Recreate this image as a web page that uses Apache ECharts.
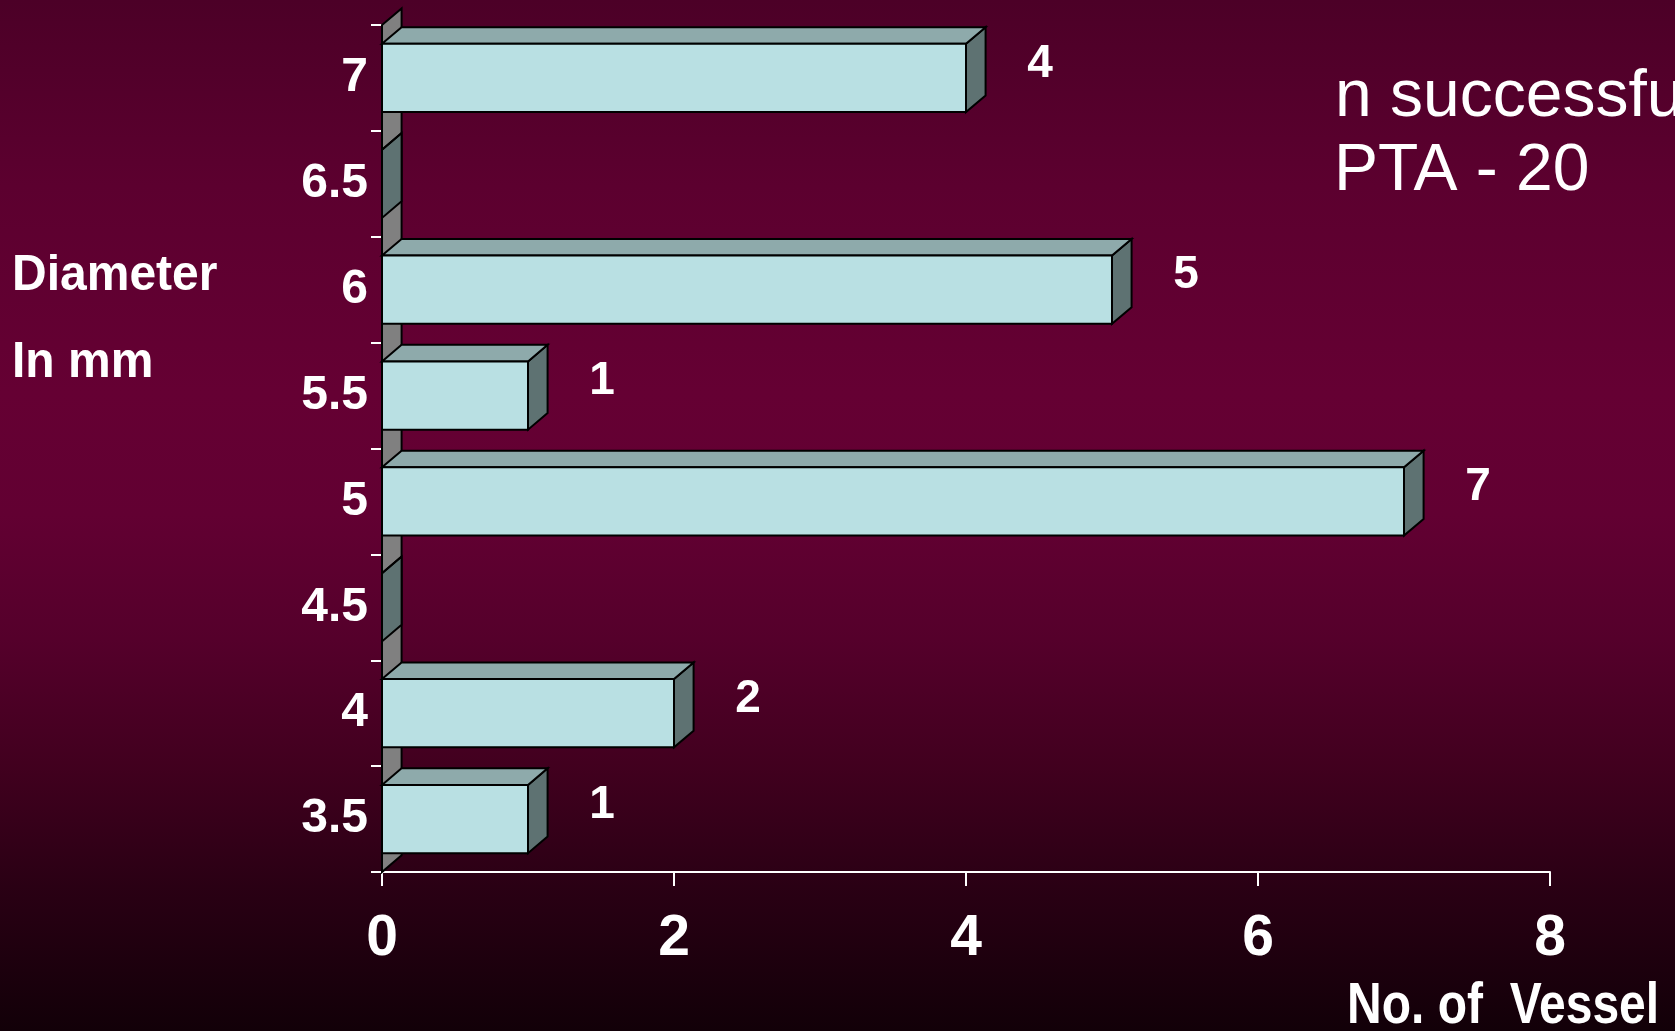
<!DOCTYPE html>
<html>
<head>
<meta charset="utf-8">
<script src="https://cdn.jsdelivr.net/npm/echarts@6/dist/echarts.min.js"></script>
<style>
  html, body { margin: 0; padding: 0; }
  #chart {
    width: 1675px; height: 1031px;
    background: linear-gradient(to bottom,
      #4c0027 0%, #5c002f 18%, #650033 38%, #620032 50%,
      #55002b 62%, #42001f 74%, #2a0014 86%, #120008 100%);
  }
</style>
</head>
<body>
<div id="chart"></div>
<script>
// Vessel diameter (mm), bottom to top
const diameters = ['3.5', '4', '4.5', '5', '5.5', '6', '6.5', '7'];
// Number of vessels for each diameter
const vesselCounts = [1, 2, 0, 7, 1, 5, 0, 4];
// Value-axis ticks
const countTicks = [0, 2, 4, 6, 8];

const FONT = "'Liberation Sans', Arial, sans-serif";
const FRONT = '#b9e0e3', TOP = '#8eaaab', SIDE = '#5e7272', WALL = '#808080', EDGE = '#000000';

const chart = echarts.init(document.getElementById('chart'), null, { renderer: 'canvas' });

// depth of the pseudo-3D extrusion, proportional to the category band
function depth(api) {
  const band = api.size([0, 1])[1];
  return { band: band, dx: band * 0.185, dy: band * 0.157 };
}

// back wall behind the bars, spanning the whole category axis
function renderWall(params, api) {
  const cs = params.coordSys;
  const d = depth(api);
  return {
    type: 'polygon',
    shape: { points: [
      [cs.x, cs.y], [cs.x + d.dx, cs.y - d.dy],
      [cs.x + d.dx, cs.y + cs.height - d.dy], [cs.x, cs.y + cs.height]
    ] },
    style: { fill: WALL, stroke: EDGE, lineWidth: 2 }
  };
}

// one extruded horizontal bar with its value label
function renderBar(params, api) {
  const val = api.value(0);
  const cat = api.value(1);
  const p0 = api.coord([0, cat]);
  const p1 = api.coord([val, cat]);
  const d = depth(api);
  const h = d.band * 0.645;
  const x0 = p0[0], x1 = p1[0], yc = p0[1];
  const yT = yc - h / 2, yB = yc + h / 2;
  const st = (fill) => ({ fill: fill, stroke: EDGE, lineWidth: 2, lineJoin: 'miter' });
  const children = [
    { type: 'polygon', shape: { points: [[x1, yT], [x1 + d.dx, yT - d.dy], [x1 + d.dx, yB - d.dy], [x1, yB]] }, style: st(SIDE) },
    { type: 'polygon', shape: { points: [[x0, yT], [x0 + d.dx, yT - d.dy], [x1 + d.dx, yT - d.dy], [x1, yT]] }, style: st(TOP) }
  ];
  if (val > 0) {
    children.push({ type: 'rect', shape: { x: x0, y: yT, width: x1 - x0, height: h }, style: st(FRONT) });
    children.push({
      type: 'text',
      style: {
        text: String(val), x: x1 + 74, y: yc - 14,
        fill: '#ffffff', font: 'bold 46px ' + FONT,
        textAlign: 'center', textVerticalAlign: 'middle'
      }
    });
  }
  return { type: 'group', children: children };
}

// free-standing slide text
function slideText(text, x, y, font, scaleY) {
  return {
    type: 'text', x: x, y: y, scaleY: scaleY || 1,
    style: { text: text, x: 0, y: 0, fill: '#ffffff', font: font, textVerticalAlign: 'middle' }
  };
}

chart.setOption({
  backgroundColor: 'transparent',
  animation: false,
  grid: { left: 382, right: 125, top: 25, bottom: 159, containLabel: false },
  xAxis: {
    type: 'value',
    min: countTicks[0], max: countTicks[countTicks.length - 1], interval: countTicks[1] - countTicks[0],
    axisLine: { show: true, lineStyle: { color: '#ffffff', width: 2 } },
    axisTick: { show: true, length: 14, lineStyle: { color: '#ffffff', width: 2 } },
    splitLine: { show: false },
    axisLabel: { color: '#ffffff', fontSize: 57, fontWeight: 'bold', fontFamily: FONT, margin: 39 }
  },
  yAxis: {
    type: 'category',
    data: diameters,
    axisLine: { show: true, lineStyle: { color: '#ffffff', width: 2 } },
    axisTick: { show: true, length: 11, lineStyle: { color: '#ffffff', width: 2 } },
    axisLabel: { color: '#ffffff', fontSize: 48, fontWeight: 'bold', fontFamily: FONT, margin: 14 }
  },
  graphic: [
    slideText('Diameter', 12, 276, 'bold 48px ' + FONT, 1.05),
    slideText('In mm', 12, 363, 'bold 48px ' + FONT, 1.05),
    slideText('n successful', 1335, 98, '66px ' + FONT),
    slideText('PTA - 20', 1334, 172, '66px ' + FONT),
    slideText('No. of  Vessel', 1347, 1007, 'bold 48px ' + FONT, 1.2)
  ],
  series: [
    {
      type: 'custom', z: 1, silent: true,
      renderItem: renderWall,
      encode: { x: 0, y: 1 },
      data: [[0, diameters[0]]]
    },
    {
      type: 'custom', z: 2,
      renderItem: renderBar,
      encode: { x: 0, y: 1 },
      data: diameters.map((d, i) => [vesselCounts[i], d])
    }
  ]
});
</script>
</body>
</html>
